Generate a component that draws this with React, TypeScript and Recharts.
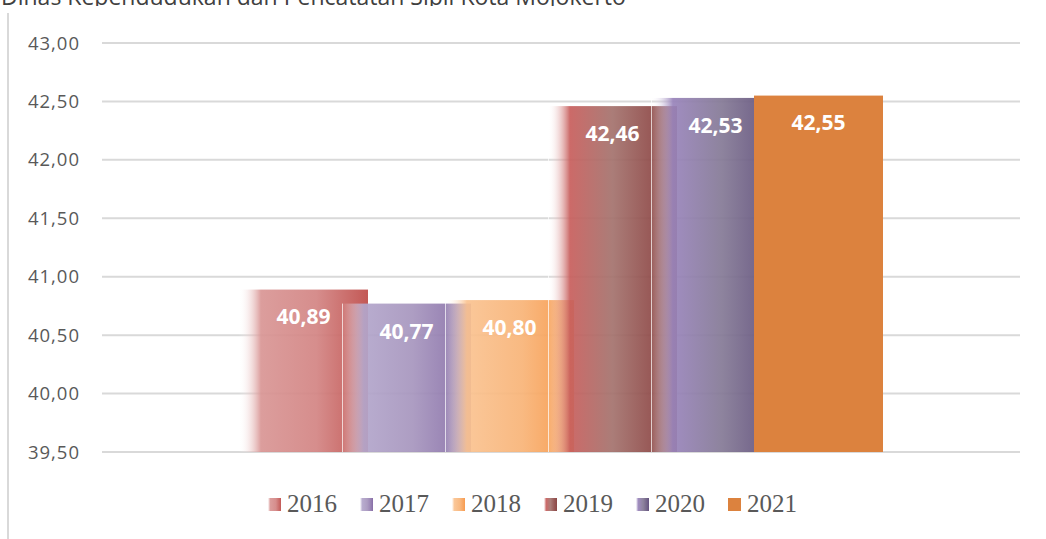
import { BarChart, Bar, XAxis, YAxis, CartesianGrid, LabelList, Legend } from 'recharts'

const years = ['2016', '2017', '2018', '2019', '2020', '2021']
const values = [40.89, 40.77, 40.8, 42.46, 42.53, 42.55]
const yTicks = [39.5, 40, 40.5, 41, 41.5, 42, 42.5, 43]

// gradient stops per year: [offset, color, opacity]
const gradients: Record<string, [number, string, number][]> = {
  '2016': [[0, '#ffffff', 0], [0.17, '#d99695', 0.93], [0.6, '#d38584', 0.93], [1, '#c0504d', 0.95]],
  '2017': [[0, '#ffffff', 0], [0.17, '#b3a6cb', 0.93], [0.55, '#a796be', 0.93], [0.85, '#8f78ad', 0.93], [1, '#8064a2', 0.95]],
  '2018': [[0, '#ffffff', 0], [0.17, '#fac391', 0.93], [0.6, '#f8b478', 0.93], [1, '#f79646', 0.95]],
  '2019': [[0, '#ffffff', 0], [0.17, '#c85f5d', 0.93], [0.5, '#a4736e', 0.93], [0.8, '#904c4a', 0.93], [1, '#853f3d', 0.95]],
  '2020': [[0, '#ffffff', 0], [0.17, '#9984bb', 0.93], [0.55, '#857a96', 0.93], [1, '#5c4a78', 0.95]],
  '2021': [[0, '#dc823e', 1], [1, '#dc823e', 1]],
}

const row: Record<string, string | number> = { name: 'Mojokerto' }
years.forEach((y, i) => {
  row['y' + y] = values[i]
})
const data = [row]

const fmt = (v: number) => Number(v).toFixed(2).replace('.', ',')

const cssGradient = (y: string) =>
  'linear-gradient(to right, ' +
  gradients[y]
    .map(([o, c, a]) => {
      const r = parseInt(c.slice(1, 3), 16)
      const g = parseInt(c.slice(3, 5), 16)
      const b = parseInt(c.slice(5, 7), 16)
      return `rgba(${r},${g},${b},${Math.max(a, 0.05)}) ${o * 100}%`
    })
    .join(', ') +
  ')'

const BarShape = (props: any) => {
  const { x, y, width, height, fill, year } = props
  return (
    <g>
      <rect x={x} y={y} width={width} height={height} fill={fill} />
      {year !== '2016' && year !== '2021' && (
        <line x1={x + 0.5} x2={x + 0.5} y1={y} y2={y + height} stroke="#ffffff" strokeOpacity={0.7} strokeWidth={1} />
      )}
    </g>
  )
}

const renderLegend = () => (
  <div
    style={{
      display: 'flex',
      justifyContent: 'center',
      paddingLeft: 19,
      fontFamily: '"Liberation Serif", serif',
      fontSize: 25,
      lineHeight: '26px',
      color: '#595959',
    }}
  >
    {years.map((y) => (
      <div key={y} style={{ display: 'flex', alignItems: 'center', marginRight: y === '2021' ? 0 : 23 }}>
        <span style={{ display: 'inline-block', width: 13, height: 13, marginRight: 6, background: cssGradient(y) }} />
        <span>{y}</span>
      </div>
    ))}
  </div>
)

export default function App() {
  return (
    <div style={{ position: 'absolute', left: 0, top: 0, width: 1046, height: 539, overflow: 'hidden', background: '#fff' }}>
      <div style={{ position: 'absolute', left: 0, top: 0, width: 700, height: 6, overflow: 'hidden' }}>
        <div
          style={{
            position: 'absolute',
            left: 1,
            top: -20,
            whiteSpace: 'nowrap',
            fontFamily: '"Open Sans", sans-serif',
            fontSize: 23,
            color: '#404040',
          }}
        >
          Dinas Kependudukan dan Pencatatan Sipil Kota Mojokerto
        </div>
      </div>
      <div style={{ position: 'absolute', left: 7, top: 13, width: 2, height: 526, background: '#d9d9d9' }} />
      <BarChart
        width={1046}
        height={539}
        data={data}
        margin={{ top: 43, right: 26, bottom: 87, left: 0 }}
        barSize={129}
        barGap={-26}
      >
        <defs>
          {years.map((y) => (
            <linearGradient key={y} id={'g' + y} x1="0" y1="0" x2="1" y2="0">
              {gradients[y].map(([o, c, a], i) => (
                <stop key={i} offset={o} stopColor={c} stopOpacity={a} />
              ))}
            </linearGradient>
          ))}
        </defs>
        <CartesianGrid vertical={false} stroke="#d9d9d9" strokeWidth={2} />
        <XAxis dataKey="name" hide />
        <YAxis
          width={102}
          domain={[39.5, 43]}
          ticks={yTicks}
          interval={0}
          axisLine={false}
          tickLine={false}
          tickSize={0}
          tickMargin={22}
          tickFormatter={fmt}
          tick={{ fill: '#595959', fontSize: 18.5, fontFamily: '"Open Sans", sans-serif', letterSpacing: 1 }}
        />
        <Legend verticalAlign="middle" content={renderLegend} wrapperStyle={{ top: 491, left: 0, width: 1046 }} />
        {years.map((y) => (
          <Bar
            key={y}
            dataKey={'y' + y}
            name={y}
            fill={`url(#g${y})`}
            isAnimationActive={false}
            shape={(p: any) => <BarShape {...p} year={y} />}
          >
            <LabelList
              dataKey={'y' + y}
              position="insideTop"
              offset={20}
              formatter={(v: any) => fmt(v)}
              fill="#ffffff"
              fontSize={21}
              fontWeight="bold"
              fontFamily='"Open Sans", sans-serif'
            />
          </Bar>
        ))}
      </BarChart>
    </div>
  )
}
